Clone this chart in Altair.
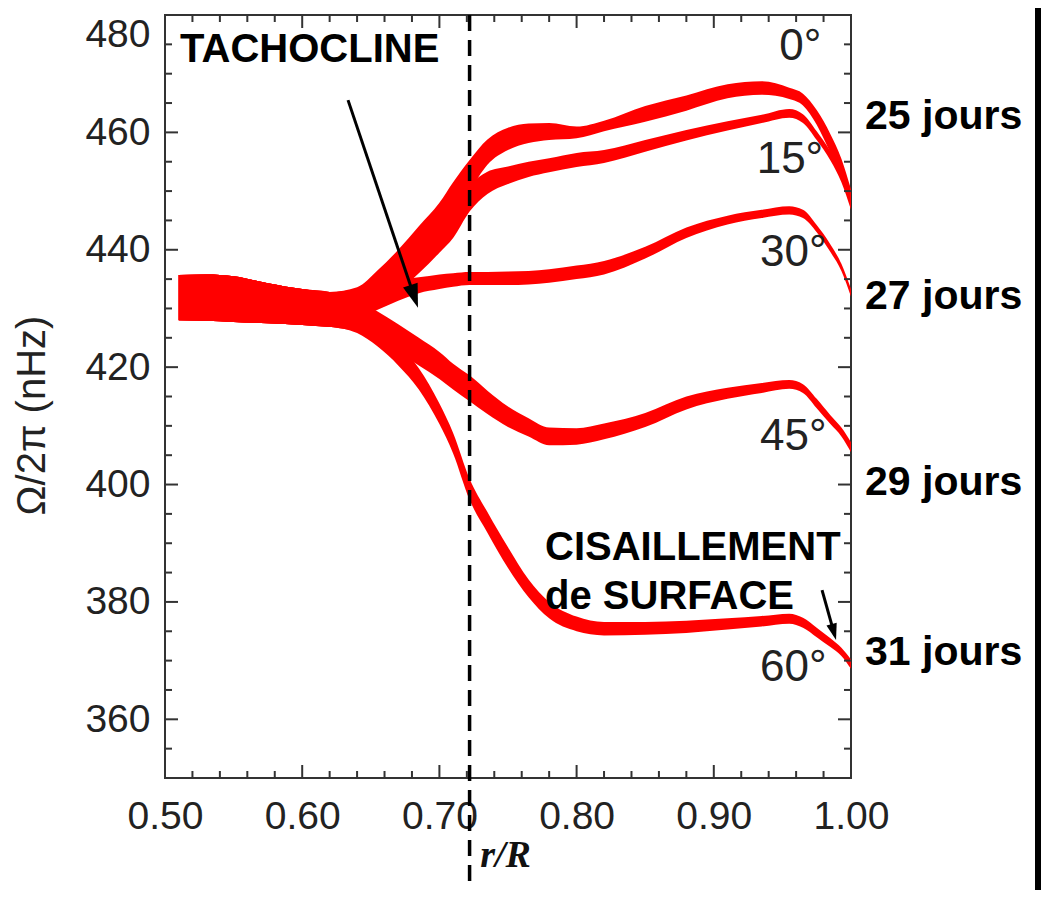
import altair as alt
import pandas as pd

# ---------------- data ----------------
R = [0.51, 0.53, 0.55, 0.575, 0.60, 0.62, 0.64, 0.655, 0.67, 0.685, 0.70, 0.71,
     0.722, 0.735, 0.75, 0.765, 0.78, 0.80, 0.82, 0.85, 0.88, 0.91, 0.935, 0.955,
     0.965, 0.975, 0.985, 0.993, 1.0]

# deep interior: all latitudes overlap
COMMON_LO = [428.0, 427.9, 427.7, 427.5, 427.2, 426.9]
COMMON_HI = [435.7, 435.8, 435.5, 434.3, 433.3, 432.8]

LO_0 = [429.0, 431.5, 434.8, 438.5, 442.5, 445.5, 450.0, 454.5, 457.0, 458.2, 458.7, 459.0,
        460.2, 461.8, 463.7, 465.8, 466.4, 465.7, 464.6, 461.3, 456.5, 452.5, 447.8]
HI_0 = [433.6, 436.5, 440.0, 444.0, 448.0, 451.5, 455.3, 458.8, 460.8, 461.5, 461.6, 461.0,
        462.0, 464.5, 466.3, 468.2, 468.7, 467.6, 466.6, 463.8, 459.7, 455.5, 450.3]

LO_15 = [428.8, 430.6, 433.0, 436.0, 439.5, 442.0, 446.5, 449.5, 451.2, 452.4, 453.2, 454.1,
         454.8, 456.7, 458.6, 460.3, 461.6, 462.5, 461.6, 458.7, 455.2, 451.5, 446.8]
HI_15 = [433.4, 435.5, 438.5, 441.5, 444.5, 447.0, 451.0, 453.3, 454.2, 455.0, 455.6, 456.5,
         457.0, 458.7, 460.4, 461.9, 463.0, 464.0, 463.1, 460.2, 456.8, 453.5, 449.5]

LO_30 = [428.5, 429.8, 431.3, 432.6, 433.3, 433.7, 434.0, 434.0, 434.0, 434.1, 434.4, 435.0,
         435.8, 438.5, 442.0, 444.3, 445.4, 446.0, 445.4, 443.0, 439.6, 436.4, 432.0]
HI_30 = [433.2, 434.0, 434.8, 435.3, 435.8, 436.0, 436.2, 436.2, 436.3, 436.4, 436.7, 437.3,
         438.1, 440.5, 443.8, 445.8, 446.8, 447.4, 446.8, 444.2, 440.9, 437.6, 433.3]

LO_45 = [426.0, 424.5, 422.5, 420.3, 418.0, 416.2, 414.2, 412.0, 409.8, 408.2, 406.7, 406.8,
         407.7, 409.8, 412.8, 414.6, 415.6, 416.3, 415.6, 413.0, 410.3, 408.2, 405.5]
HI_45 = [431.5, 429.5, 427.3, 425.0, 422.6, 420.6, 418.6, 416.0, 413.3, 411.3, 409.7, 409.6,
         410.4, 412.2, 415.0, 416.5, 417.3, 417.8, 417.1, 414.6, 411.8, 409.7, 407.2]

LO_60 = [425.8, 423.5, 420.3, 416.2, 410.3, 405.3, 397.4, 391.8, 385.8, 380.8, 377.2, 375.0,
         374.3, 374.4, 374.7, 375.3, 375.8, 376.3, 375.6, 374.0, 372.3, 370.8, 368.6]
HI_60 = [430.5, 426.8, 424.0, 419.8, 413.8, 408.8, 401.0, 395.3, 389.3, 383.8, 380.0, 377.5,
         376.6, 376.6, 376.8, 377.2, 377.6, 378.0, 377.3, 375.6, 373.8, 372.2, 370.2]

LATS = ["0°", "15°", "30°", "45°", "60°"]
LOS = [LO_0, LO_15, LO_30, LO_45, LO_60]
HIS = [HI_0, HI_15, HI_30, HI_45, HI_60]

# latitude labels (position in data units)
LAT_LABEL_R = [0.963, 0.9555, 0.958, 0.958, 0.958]
LAT_LABEL_Y = [474.5, 455.3, 439.4, 408.1, 368.7]

# rotation periods on the right
PERIOD_TEXT = ["25 jours", "27 jours", "29 jours", "31 jours"]
PERIOD_Y = [462.6, 432.0, 400.3, 371.3]

# annotations
ANNOT_TEXT = ["TACHOCLINE", "CISAILLEMENT", "de SURFACE"]
ANNOT_R = [0.511, 0.777, 0.777]
ANNOT_Y = [474.0, 389.2, 380.8]

ARROW_R0 = [0.6334, 0.9789]
ARROW_Y0 = [465.5, 382.0]
ARROW_R1 = [0.6844, 0.9891]
ARROW_Y1 = [430.1, 373.5]
ARROW_ANGLE = [341.4, 344.4]
ARROW_SIZE = [2300, 1100]

TACHO_R = [0.722]

X_MAJOR = [0.5, 0.6, 0.7, 0.8, 0.9, 1.0]
X_MINOR = [0.52, 0.54, 0.56, 0.58, 0.62, 0.64, 0.66, 0.68, 0.72, 0.74, 0.76, 0.78,
           0.82, 0.84, 0.86, 0.88, 0.92, 0.94, 0.96, 0.98]
Y_MAJOR = [360, 380, 400, 420, 440, 460, 480]
Y_MINOR = [355, 365, 370, 375, 385, 390, 395, 405, 410, 415, 425, 430, 435, 445, 450,
           455, 465, 470, 475]

# ---------------- build tables ----------------
rows = []
for lat, lo, hi in zip(LATS, LOS, HIS):
    for r, l, h in zip(R, COMMON_LO + lo, COMMON_HI + hi):
        rows.append({"r": r, "lo": l, "hi": h, "lat": lat})
bands_df = pd.DataFrame(rows)

W, H = 686, 763
PAD_L, PAD_T, PAD_R, PAD_B = 157, 7, 190, 112
FONT = "Liberation Sans"
AX = "#222222"

xs = alt.Scale(domain=[0.5, 1.0], nice=False, zero=False)
ys = alt.Scale(domain=[350, 480], nice=False, zero=False)

x_axis = alt.Axis(values=X_MAJOR, format=".2f", labelFont=FONT, labelFontSize=39,
                  labelColor=AX, ticks=False, domain=False, grid=False, labelPadding=19,
                  labelFlush=False, labelOverlap=False, labelBound=False,
                  title="r/R", titleFont="Liberation Serif", titleFontStyle="italic",
                  titleFontWeight="bold", titleFontSize=38, titleColor="#111111",
                  titleX=340, titleY=77, titleAlign="center", titleBaseline="middle")
y_axis = alt.Axis(values=Y_MAJOR, labelFont=FONT, labelFontSize=39, labelColor=AX,
                  ticks=False, domain=False, grid=False, labelPadding=15,
                  labelOverlap=False, labelBound=False, labelFlush=True,
                  title="Ω/2π (nHz)", titleFont=FONT, titleFontWeight="normal",
                  titleFontSize=40, titleColor=AX, titleAngle=270,
                  titleX=-133, titleY=400, titleAlign="center", titleBaseline="middle")

bands = alt.Chart(bands_df).mark_area(color="#ff0000", interpolate="monotone").encode(
    x=alt.X("r:Q", scale=xs, axis=x_axis),
    y=alt.Y("lo:Q", scale=ys, axis=y_axis),
    y2="hi:Q",
    detail="lat:N",
)

def ticks(vals, orient, length):
    d = pd.DataFrame({"v": vals})
    base = alt.Chart(d).mark_rule(color="#333333", strokeWidth=2)
    if orient == "bottom":
        return base.encode(x=alt.X("v:Q", scale=xs), y=alt.value(H), y2=alt.value(H - length))
    if orient == "top":
        return base.encode(x=alt.X("v:Q", scale=xs), y=alt.value(0), y2=alt.value(length))
    if orient == "left":
        return base.encode(y=alt.Y("v:Q", scale=ys), x=alt.value(0), x2=alt.value(length))
    return base.encode(y=alt.Y("v:Q", scale=ys), x=alt.value(W), x2=alt.value(W - length))

tick_layers = []
for o in ["bottom", "top"]:
    tick_layers.append(ticks(X_MAJOR, o, 13))
    tick_layers.append(ticks(X_MINOR, o, 7))
for o in ["left", "right"]:
    tick_layers.append(ticks(Y_MAJOR, o, 13))
    tick_layers.append(ticks(Y_MINOR, o, 7))

tacho = alt.Chart(pd.DataFrame({"r": TACHO_R})).mark_rule(
    color="black", strokeWidth=3.5, strokeDash=[16, 9]).encode(
    x=alt.X("r:Q", scale=xs), y=alt.value(0), y2=alt.value(H + PAD_B))

lat_df = pd.DataFrame({"r": LAT_LABEL_R, "y": LAT_LABEL_Y, "t": LATS})
lat_text = alt.Chart(lat_df).mark_text(font=FONT, fontSize=44, color=AX, align="center",
                                       baseline="middle").encode(
    x=alt.X("r:Q", scale=xs), y=alt.Y("y:Q", scale=ys), text="t:N")

per_df = pd.DataFrame({"r": [1.0] * len(PERIOD_TEXT), "y": PERIOD_Y, "t": PERIOD_TEXT})
per_text = alt.Chart(per_df).mark_text(font=FONT, fontSize=41, fontWeight="bold",
                                       color="black", align="left", baseline="middle",
                                       dx=14).encode(
    x=alt.X("r:Q", scale=xs), y=alt.Y("y:Q", scale=ys), text="t:N")

ann_df = pd.DataFrame({"r": ANNOT_R, "y": ANNOT_Y, "t": ANNOT_TEXT})
ann_text = alt.Chart(ann_df).mark_text(font=FONT, fontSize=40, fontWeight="bold",
                                       color="black", align="left",
                                       baseline="middle").encode(
    x=alt.X("r:Q", scale=xs), y=alt.Y("y:Q", scale=ys), text="t:N")

shaft_rows = []
for i in range(len(ARROW_R0)):
    r0, y0, r1, y1 = ARROW_R0[i], ARROW_Y0[i], ARROW_R1[i], ARROW_Y1[i]
    # shaft stops a little before the tip, the head covers the rest
    rm, ym = r0 + 0.9 * (r1 - r0), y0 + 0.9 * (y1 - y0)
    shaft_rows.append({"a": i, "o": 0, "r": r0, "y": y0})
    shaft_rows.append({"a": i, "o": 1, "r": rm, "y": ym})
shaft = alt.Chart(pd.DataFrame(shaft_rows)).mark_line(color="black", strokeWidth=3).encode(
    x=alt.X("r:Q", scale=xs), y=alt.Y("y:Q", scale=ys), detail="a:N", order="o:Q")

head_df = pd.DataFrame({"r": ARROW_R1, "y": ARROW_Y1, "ang": ARROW_ANGLE, "sz": ARROW_SIZE})
heads = alt.Chart(head_df).mark_point(shape="M0,0L-0.32,-1L0.32,-1Z", filled=True,
                                      color="black", opacity=1).encode(
    x=alt.X("r:Q", scale=xs), y=alt.Y("y:Q", scale=ys),
    angle=alt.Angle("ang:Q", scale=None), size=alt.Size("sz:Q", scale=None))

# black border strip at the right edge of the picture
border = alt.Chart(pd.DataFrame({"k": [0]})).mark_rect(color="black").encode(
    x=alt.value(W + PAD_R - 6), x2=alt.value(W + PAD_R),
    y=alt.value(-PAD_T), y2=alt.value(H + PAD_B))

chart = alt.layer(bands, *tick_layers, tacho, lat_text, per_text, ann_text, shaft, heads,
                  border).properties(
    width=W, height=H,
    autosize=alt.AutoSizeParams(type="none"),
    padding={"left": PAD_L, "top": PAD_T, "right": PAD_R, "bottom": PAD_B},
    background="white",
).configure_view(stroke="#333333", strokeWidth=2)

chart.save("out.html", embed_options={"renderer": "svg", "actions": False})
